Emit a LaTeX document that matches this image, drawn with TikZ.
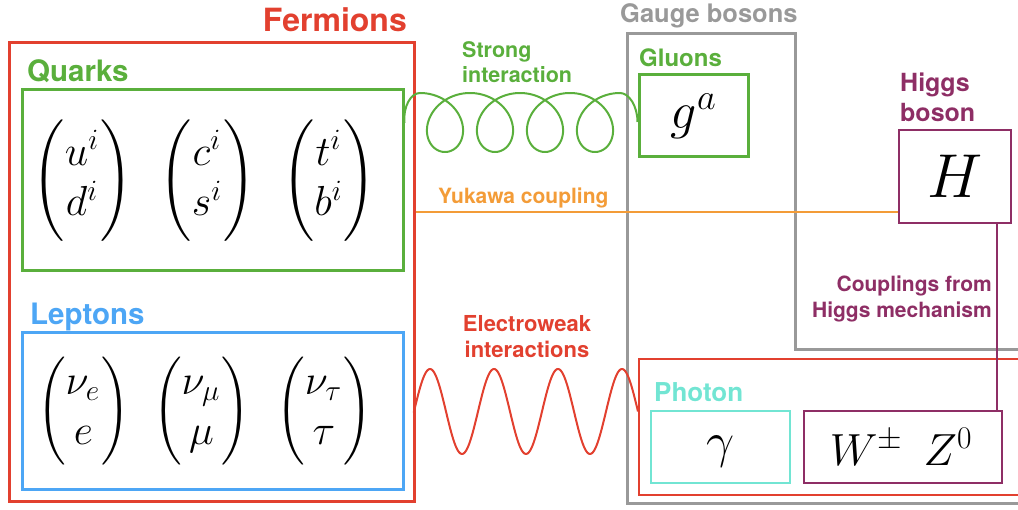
\RequirePackage{fix-cm}
\documentclass[tikz,border=0pt]{standalone}
\usepackage{fontspec}
\usepackage{amsmath}
\usepackage{exscale}
\newfontfamily\hv{TeX Gyre Heros}
\definecolor{fred}{RGB}{226,64,47}
\definecolor{fgreen}{RGB}{90,175,60}
\definecolor{fblue}{RGB}{77,166,245}
\definecolor{forange}{RGB}{243,156,56}
\definecolor{fgray}{RGB}{153,153,153}
\definecolor{fpurple}{RGB}{142,46,101}
\definecolor{fturq}{RGB}{114,229,211}
\newcommand\bigmath{\fontsize{42}{50.4}\selectfont\scriptspace=2pt}
\newcommand\qp[1]{\mbox{\scalebox{4.05}{\fontsize{10}{12}\selectfont$\Bigg#1$}}}
\newcommand\lp[1]{\mbox{\scalebox{3.6}{\fontsize{10}{12}\selectfont$\Bigg#1$}}}
\tikzset{
  frame/.style={draw, rectangle, inner sep=0pt, line width=3pt},
  thin frame/.style={draw, rectangle, inner sep=0pt, line width=2.5pt},
  lbl/.style={inner sep=0pt, font=\hv\bfseries},
  mathbig/.style={inner sep=0pt, font=\bigmath},
  gluon/.style={draw=fgreen, line width=2pt},
  wavy/.style={draw=fred, line width=2pt},
  link/.style={line width=1.6pt}
}
\begin{document}
\begin{tikzpicture}[x=1pt,y=-1pt]
\useasboundingbox (0,0) rectangle (1018,510);
\clip (0,0) rectangle (1018,510);

% gauge bosons L-shaped frame
\draw[fgray, line width=3pt] (1040,350) -- (795,350) -- (795,34) -- (627,34) -- (627,504) -- (1040,504);

% boxes
\node[frame, draw=fred, minimum width=405pt, minimum height=459pt] (fermions) at (211.5,272.5) {};
\node[frame, draw=fgreen, minimum width=381pt, minimum height=181pt] (quarks) at (212.5,180.5) {};
\node[frame, draw=fblue, minimum width=381pt, minimum height=157pt] (leptons) at (212.5,411.5) {};
\node[frame, draw=fgreen, minimum width=109pt, minimum height=82pt] (gluons) at (693.5,116) {};
\node[thin frame, draw=fpurple, minimum width=112pt, minimum height=93pt] (higgs) at (955,176.5) {};
\node[thin frame, draw=fred, minimum width=401pt, minimum height=136pt] (ew) at (839.5,427) {};
\node[thin frame, draw=fturq, minimum width=139pt, minimum height=72pt] (photon) at (720.5,447) {};
\node[thin frame, draw=fpurple, minimum width=198pt, minimum height=72pt] (wz) at (903,447) {};

% titles (multi-line nodes are anchored at the baseline of their last line)
\node[lbl, text=fred, font=\hv\bfseries\fontsize{32}{38}\selectfont, anchor=base east] (tfer) at (407,32) {Fermions};
\node[lbl, text=fgreen, font=\hv\bfseries\fontsize{29.5}{35}\selectfont, anchor=base west] (tq) at (27,82) {Quarks};
\node[lbl, text=fblue, font=\hv\bfseries\fontsize{29.5}{35}\selectfont, anchor=base west] (tl) at (30,325) {Leptons};
\node[lbl, text=fgray, font=\hv\bfseries\fontsize{25.5}{30}\selectfont, anchor=base west] (tg) at (620,23) {Gauge bosons};
\node[lbl, text=fgreen, font=\hv\bfseries\fontsize{24}{29}\selectfont, anchor=base west] (tglu) at (639,67) {Gluons};
\node[lbl, text=fpurple, font=\hv\bfseries\fontsize{25}{30}\selectfont, anchor=base west, align=left] (th) at (900,122) {Higgs\\boson};
\node[lbl, text=fturq, font=\hv\bfseries\fontsize{26}{31}\selectfont, anchor=base west] (tph) at (654,402) {Photon};
\node[lbl, text=fgreen, font=\hv\bfseries\fontsize{21.5}{25}\selectfont, anchor=base west, align=left] (tstrong) at (462,83) {Strong\\interaction};
\node[lbl, text=forange, font=\hv\bfseries\fontsize{21}{25}\selectfont, anchor=base west] (tyuk) at (438,204) {Yukawa coupling};
\node[lbl, text=fred, font=\hv\bfseries\fontsize{22}{26}\selectfont, anchor=base, align=center] (tew) at (527,358) {Electroweak\\interactions};
\node[lbl, text=fpurple, font=\hv\bfseries\fontsize{21}{26}\selectfont, anchor=base east, align=right] (tcoup) at (992,318) {Couplings from\\Higgs mechanism};

% math contents
\node[mathbig] (q1) at (82.5,180.5) {$\qp(\begin{matrix}u^i\\d^i\end{matrix}\qp)$};
\node[mathbig] (q2) at (207.5,180.5) {$\qp(\begin{matrix}c^i\\s^i\end{matrix}\qp)$};
\node[mathbig] (q3) at (329,180.5) {$\qp(\begin{matrix}t^i\\b^i\end{matrix}\qp)$};
\node[mathbig] (l1) at (83.5,411) {$\lp(\begin{matrix}\nu_e\\e\end{matrix}\lp)$};
\node[mathbig] (l2) at (201.5,411) {$\lp(\begin{matrix}\nu_\mu\\\mu\end{matrix}\lp)$};
\node[mathbig] (l3) at (324,411) {$\lp(\begin{matrix}\nu_\tau\\\tau\end{matrix}\lp)$};
\node[inner sep=0pt, font=\fontsize{52}{60}\selectfont] (ga) at (gluons.center) {$g^a$};
\node[inner sep=0pt, font=\fontsize{62}{70}\selectfont] (hh) at (higgs.center) {$H$};
\node[inner sep=0pt, font=\fontsize{50}{60}\selectfont] (gam) at (721,452) {$\gamma$};
\node[inner sep=0pt, font=\fontsize{45}{52}\selectfont] (wzt) at (901,447) {$W^{\pm}\ \,Z^0$};

% connectors
\coordinate (qs) at (quarks.east |- 0,123);
\coordinate (ge) at (gluons.west |- 0,122);
\draw[gluon] (qs) .. controls (403,106) and (411,93) .. (420,93)
  -- plot[domain=270:1710, samples=400, variable=\t] ({382.5+0.138889*\t+29.5*cos(\t)},{122.5+29.5*sin(\t)})
  .. controls (629,93) and (ge |- 0,106) .. (ge);

\coordinate (ws) at (fermions.east |- 0,411.5);
\draw[wavy] (ws) -- plot[domain=0:224, samples=200, variable=\x] ({414+\x},{411.5-42.5*sin(5.625*\x)});

\coordinate (yk) at (0,212);
\draw[link, forange] (fermions.east |- yk) -- (higgs.west |- yk);

\coordinate (hx) at (997,0);
\draw[link, fpurple] (higgs.south -| hx) -- (wz.north -| hx);
\end{tikzpicture}
\end{document}
